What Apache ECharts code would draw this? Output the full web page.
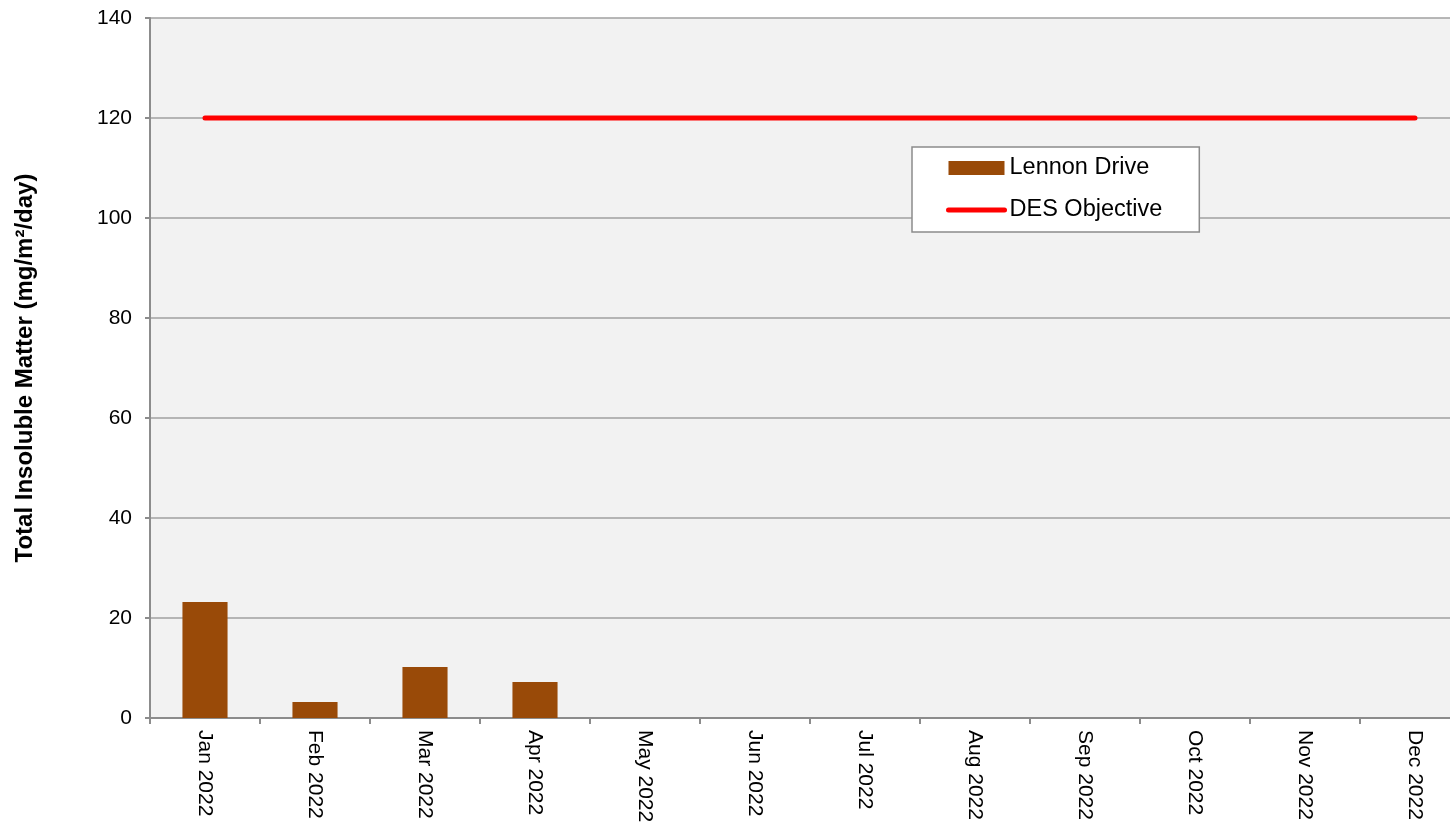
<!DOCTYPE html>
<html>
<head>
<meta charset="utf-8">
<title>Total Insoluble Matter</title>
<script src="https://cdn.jsdelivr.net/npm/echarts@6/dist/echarts.min.js"></script>
<style>
  html, body { margin: 0; padding: 0; background: #fff; }
  #chart { width: 1450px; height: 825px; }
</style>
</head>
<body>
<div id="chart"></div>
<script>
// monthly values
const months = ['Jan 2022', 'Feb 2022', 'Mar 2022', 'Apr 2022', 'May 2022', 'Jun 2022',
  'Jul 2022', 'Aug 2022', 'Sep 2022', 'Oct 2022', 'Nov 2022', 'Dec 2022'];
const lennonDrive = [23.2, 3.2, 10.2, 7.2, null, null, null, null, null, null, null, null];
const desObjective = [120, 120, 120, 120, 120, 120, 120, 120, 120, 120, 120, 120];
const yTicks = { min: 0, max: 140, interval: 20 };

const font = "'Liberation Sans', Arial, sans-serif";
const axisGray = '#8c8c8c';

const chart = echarts.init(document.getElementById('chart'));

chart.setOption({
  animation: false,
  textStyle: { fontFamily: font },
  grid: {
    left: 150,
    top: 18,
    width: 1320, // plot runs past the right edge of the canvas
    bottom: 107,
    outerBoundsMode: 'none',
    containLabel: false,
    show: true,
    backgroundColor: '#f2f2f2',
    borderWidth: 0,
  },
  legend: {
    orient: 'vertical',
    left: 912,
    top: 147,
    padding: [8, 37, 9, 34],
    backgroundColor: '#ffffff',
    borderColor: '#8c8c8c',
    borderWidth: 1.5,
    itemGap: 16,
    itemWidth: 56,
    itemHeight: 14,
    textStyle: { fontSize: 23.5, color: '#000', lineHeight: 26, fontFamily: font },
    data: [
      { name: 'Lennon Drive', icon: 'rect' },
      {
        name: 'DES Objective',
        itemStyle: { color: 'rgba(0,0,0,0)', borderWidth: 0 },
        lineStyle: { width: 5, color: '#ff0000', cap: 'round' },
      },
    ],
  },
  xAxis: {
    type: 'category',
    data: months,
    boundaryGap: true,
    axisLine: { lineStyle: { color: axisGray, width: 2 } },
    axisTick: { show: true, length: 6, lineStyle: { color: axisGray, width: 2 } },
    axisLabel: { rotate: -90, margin: 12, fontSize: 21, color: '#000', fontFamily: font },
  },
  yAxis: {
    type: 'value',
    min: yTicks.min,
    max: yTicks.max,
    interval: yTicks.interval,
    name: 'Total Insoluble Matter (mg/m²/day)',
    nameLocation: 'middle',
    nameRotate: 90,
    nameGap: 113,
    nameTextStyle: { fontSize: 24, fontWeight: 'bold', color: '#000', fontFamily: font },
    axisLine: { show: true, lineStyle: { color: axisGray, width: 2 } },
    axisTick: { show: true, length: 5, lineStyle: { color: axisGray, width: 2 } },
    axisLabel: { margin: 18, fontSize: 21, color: '#000', fontFamily: font },
    splitLine: { show: true, lineStyle: { color: '#a0a0a0', width: 1.5 } },
  },
  series: [
    {
      name: 'Lennon Drive',
      type: 'bar',
      data: lennonDrive,
      barWidth: '41%',
      itemStyle: { color: '#994a08' },
    },
    {
      name: 'DES Objective',
      type: 'line',
      data: desObjective,
      symbol: 'none',
      lineStyle: { color: '#ff0000', width: 5, cap: 'round' },
      itemStyle: { color: '#ff0000' },
      z: 3,
    },
  ],
});
</script>
</body>
</html>
